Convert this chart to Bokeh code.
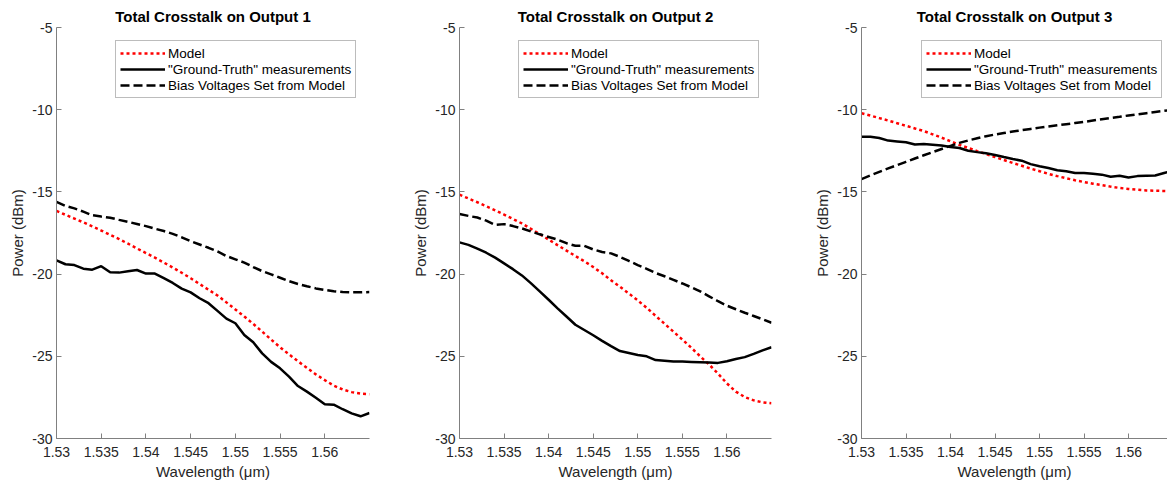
from bokeh.plotting import figure
from bokeh.layouts import row
from bokeh.models import Range1d, FixedTicker, NumeralTickFormatter
from bokeh.embed import file_html
from bokeh.resources import INLINE

# Wavelength grid (um)
wavelength = [1.530, 1.531, 1.532, 1.533, 1.534, 1.535, 1.536, 1.537, 1.538,
              1.539, 1.540, 1.541, 1.542, 1.543, 1.544, 1.545, 1.546, 1.547,
              1.548, 1.549, 1.550, 1.551, 1.552, 1.553, 1.554, 1.555, 1.556,
              1.557, 1.558, 1.559, 1.560, 1.561, 1.562, 1.563, 1.564, 1.565]

# Output 1 (dBm)
model_1 = [-16.16, -16.39, -16.62, -16.85, -17.10, -17.35, -17.61, -17.87, -18.15,
           -18.44, -18.72, -19.00, -19.30, -19.60, -19.92, -20.25, -20.60, -20.95,
           -21.30, -21.72, -22.15, -22.58, -23.03, -23.50, -23.98, -24.45, -24.88,
           -25.30, -25.70, -26.10, -26.45, -26.78, -27.02, -27.18, -27.27, -27.31]
truth_1 = [-19.16, -19.40, -19.45, -19.67, -19.73, -19.52, -19.89, -19.91, -19.83,
           -19.75, -19.97, -19.97, -20.25, -20.54, -20.88, -21.11, -21.47, -21.77,
           -22.24, -22.71, -22.99, -23.70, -24.15, -24.82, -25.34, -25.73, -26.24,
           -26.81, -27.15, -27.52, -27.92, -27.94, -28.22, -28.47, -28.65, -28.45]
bias_1 = [-15.61, -15.85, -16.00, -16.20, -16.42, -16.50, -16.57, -16.70, -16.82,
          -16.95, -17.08, -17.24, -17.38, -17.55, -17.76, -18.00, -18.20, -18.40,
          -18.62, -18.90, -19.10, -19.30, -19.57, -19.82, -20.02, -20.22, -20.43,
          -20.60, -20.74, -20.87, -20.96, -21.04, -21.09, -21.11, -21.11, -21.09]

# Output 2 (dBm)
model_2 = [-15.17, -15.40, -15.63, -15.87, -16.12, -16.38, -16.65, -16.92, -17.24,
           -17.57, -17.90, -18.24, -18.57, -18.90, -19.22, -19.57, -19.95, -20.38,
           -20.77, -21.18, -21.60, -22.05, -22.54, -23.02, -23.50, -23.98, -24.48,
           -25.00, -25.50, -26.05, -26.65, -27.15, -27.48, -27.68, -27.80, -27.86]
truth_2 = [-18.07, -18.22, -18.45, -18.70, -19.00, -19.35, -19.70, -20.08, -20.55,
           -21.05, -21.56, -22.08, -22.58, -23.08, -23.40, -23.72, -24.06, -24.38,
           -24.68, -24.80, -24.92, -25.00, -25.23, -25.27, -25.31, -25.32, -25.34,
           -25.36, -25.38, -25.40, -25.30, -25.16, -25.05, -24.85, -24.64, -24.45]
bias_2 = [-16.35, -16.46, -16.56, -16.75, -17.00, -16.96, -17.08, -17.22, -17.40,
          -17.58, -17.74, -17.90, -18.12, -18.28, -18.28, -18.50, -18.66, -18.74,
          -18.95, -19.20, -19.45, -19.68, -19.93, -20.13, -20.35, -20.57, -20.80,
          -21.05, -21.35, -21.65, -21.92, -22.14, -22.35, -22.55, -22.75, -22.96]

# Output 3 (dBm)
model_3 = [-10.22, -10.36, -10.51, -10.66, -10.82, -10.98, -11.14, -11.30, -11.50,
           -11.70, -11.92, -12.14, -12.33, -12.52, -12.70, -12.88, -13.06, -13.24,
           -13.41, -13.58, -13.74, -13.90, -14.04, -14.17, -14.29, -14.40, -14.50,
           -14.59, -14.68, -14.76, -14.82, -14.87, -14.91, -14.93, -14.94, -14.95]
truth_3 = [-11.64, -11.64, -11.72, -11.88, -11.93, -11.98, -12.12, -12.09, -12.13,
           -12.18, -12.27, -12.33, -12.50, -12.58, -12.65, -12.75, -12.88, -13.00,
           -13.10, -13.31, -13.44, -13.55, -13.68, -13.75, -13.85, -13.85, -13.90,
           -13.95, -14.08, -14.02, -14.12, -14.04, -14.02, -14.00, -13.85, -13.70]
bias_3 = [-14.22, -14.00, -13.78, -13.57, -13.37, -13.17, -12.97, -12.77, -12.58,
          -12.39, -12.20, -12.02, -11.87, -11.74, -11.61, -11.51, -11.42, -11.33,
          -11.25, -11.17, -11.09, -11.02, -10.95, -10.88, -10.81, -10.74, -10.66,
          -10.58, -10.50, -10.43, -10.35, -10.28, -10.21, -10.14, -10.07, -10.00]

x_ticks = [1.53, 1.535, 1.54, 1.545, 1.55, 1.555, 1.56]
y_ticks = [-30, -25, -20, -15, -10, -5]
series_labels = ["Model", '"Ground-Truth" measurements', "Bias Voltages Set from Model"]

FONT = "Liberation Sans"
AXIS_GRAY = "#808080"
TEXT_DARK = "#262626"


def make_panel(n, model, truth, bias, left, frame_w, right, x_end, legend_x):
    p = figure(frame_width=frame_w, frame_height=411,
               min_border_left=left, min_border_right=right,
               min_border_top=27, min_border_bottom=46,
               x_range=Range1d(1.53, x_end), y_range=Range1d(-30, -5),
               output_backend="svg", toolbar_location=None,
               title=f"Total Crosstalk on Output {n}")
    p.outline_line_color = None
    p.grid.visible = False
    p.background_fill_color = "white"
    p.border_fill_color = "white"

    p.title.text_font = FONT
    p.title.text_font_size = "15px"
    p.title.text_font_style = "bold"
    p.title.text_color = "black"
    p.title.align = "center"
    p.title.standoff = 5

    for ax in (p.xaxis[0], p.yaxis[0]):
        ax.axis_line_color = AXIS_GRAY
        ax.axis_line_width = 1
        ax.major_tick_line_color = AXIS_GRAY
        ax.major_tick_in = 5
        ax.major_tick_out = 0
        ax.minor_tick_line_color = None
        ax.major_label_text_font = FONT
        ax.major_label_text_font_size = "14px"
        ax.major_label_text_color = TEXT_DARK
        ax.axis_label_text_font = FONT
        ax.axis_label_text_font_size = "15px"
        ax.axis_label_text_font_style = "normal"
        ax.axis_label_text_color = TEXT_DARK

    p.xaxis.ticker = FixedTicker(ticks=x_ticks)
    p.xaxis.formatter = NumeralTickFormatter(format="0.[000]")
    p.xaxis.major_label_standoff = 8
    p.xaxis.axis_label = "Wavelength (μm)"
    p.xaxis.axis_label_standoff = 3

    p.yaxis.ticker = FixedTicker(ticks=y_ticks)
    p.yaxis.formatter = NumeralTickFormatter(format="0")
    p.yaxis.major_label_standoff = 4
    p.yaxis.axis_label = "Power (dBm)"
    p.yaxis.axis_label_standoff = 3

    p.line(wavelength, model, line_color="red", line_width=2.5,
           line_dash="3 3", legend_label=series_labels[0])
    p.line(wavelength, truth, line_color="black", line_width=2.5,
           legend_label=series_labels[1])
    p.line(wavelength, bias, line_color="black", line_width=2.5,
           line_dash="9 4", legend_label=series_labels[2])

    lg = p.legend[0]
    lg.location = (legend_x, 340)
    lg.border_line_color = "#7a7a7a"
    lg.border_line_width = 1
    lg.background_fill_color = "white"
    lg.background_fill_alpha = 1
    lg.padding = 4
    lg.margin = 0
    lg.spacing = 0
    lg.glyph_width = 45
    lg.glyph_height = 16
    lg.label_height = 16
    lg.label_width = 180
    lg.label_standoff = 3
    lg.label_text_font = FONT
    lg.label_text_font_size = "13.5px"
    lg.label_text_color = "black"
    return p


p1 = make_panel(1, model_1, truth_1, bias_1, 56, 313, 31, 1.565, 59)
p2 = make_panel(2, model_2, truth_2, bias_2, 59, 312, 29, 1.565, 59)
p3 = make_panel(3, model_3, truth_3, bias_3, 61, 306, 0, 1.53 + 306 / 8900, 60)

layout = row(p1, p2, p3)
open("out.html", "w").write(file_html(layout, INLINE))
